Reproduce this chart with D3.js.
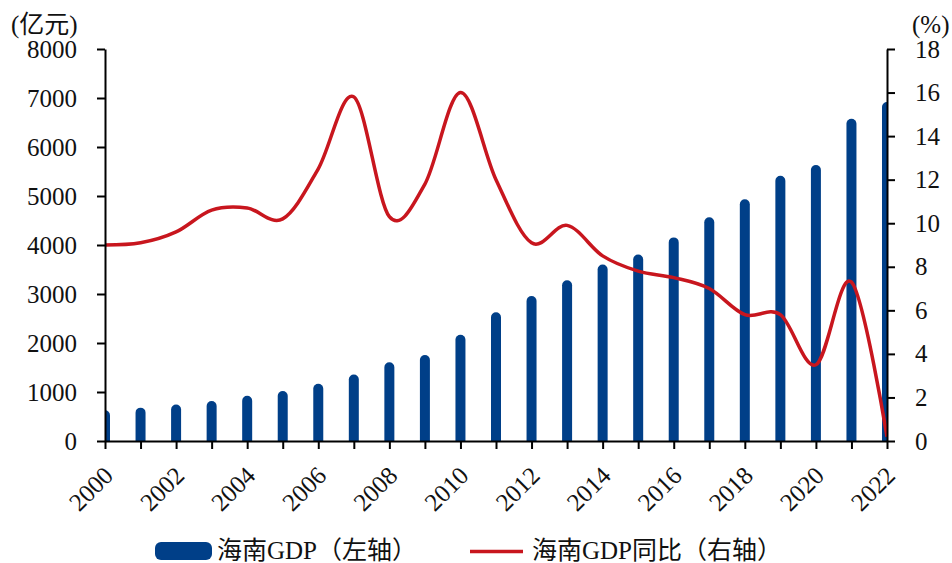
<!DOCTYPE html>
<html>
<head>
<meta charset="utf-8">
<script src="https://cdn.jsdelivr.net/npm/d3@7"></script>
<style>
  html, body { margin: 0; padding: 0; background: #fff; }
  svg { display: block; }
  text { font-family: "Liberation Serif", "Times New Roman", "Noto Sans CJK SC", serif; fill: #111; }
</style>
</head>
<body>
<svg id="chart" width="952" height="563"></svg>
<script>
// Hainan GDP (100 million yuan) and its year-on-year growth (%)
const years = [2000, 2001, 2002, 2003, 2004, 2005, 2006, 2007, 2008, 2009, 2010, 2011,
               2012, 2013, 2014, 2015, 2016, 2017, 2018, 2019, 2020, 2021, 2022];
const gdp = [527, 579, 643, 714, 820, 919, 1066, 1254, 1503, 1654, 2065, 2523,
             2856, 3178, 3501, 3703, 4053, 4463, 4832, 5309, 5532, 6475, 6818];
const growth = [9.0, 9.1, 9.6, 10.6, 10.7, 10.2, 12.5, 15.8, 10.3, 11.8, 16.0, 12.0,
                9.1, 9.9, 8.5, 7.8, 7.5, 7.0, 5.8, 5.8, 3.5, 7.3, 0.2];
const leftTicks = [0, 1000, 2000, 3000, 4000, 5000, 6000, 7000, 8000];
const rightTicks = [0, 2, 4, 6, 8, 10, 12, 14, 16, 18];
const xLabelYears = years.filter(y => y % 2 === 0);
const leftUnit = "(亿元)";
const rightUnit = "(%)";
const legendLabels = ["海南GDP（左轴）", "海南GDP同比（右轴）"];

const BLUE = "#003F88";
const RED = "#C8161E";

const svg = d3.select("#chart");
const plot = { left: 105, right: 887, top: 49, bottom: 441 };

const x = d3.scaleLinear().domain([2000, 2022]).range([plot.left, plot.right]);
const yL = d3.scaleLinear().domain([0, 8000]).range([plot.bottom, plot.top]);
const yR = d3.scaleLinear().domain([0, 18]).range([plot.bottom, plot.top]);

svg.append("defs").append("clipPath").attr("id", "plotClip")
  .append("rect")
  .attr("x", plot.left).attr("y", 0)
  .attr("width", plot.right - plot.left).attr("height", plot.bottom);

// Bars with a rounded cap on top
const barW = 10, capR = 5;
const barPath = (yr, v) => {
  const cx = x(yr), x0 = cx - barW / 2, x1 = cx + barW / 2, top = yL(v), bot = yL(0);
  return `M${x0},${bot}V${top}A${capR},${capR} 0 0 1 ${x1},${top}V${bot}Z`;
};
svg.append("g").attr("clip-path", "url(#plotClip)")
  .selectAll("path").data(years).join("path")
  .attr("d", (yr, i) => barPath(yr, gdp[i]))
  .attr("fill", BLUE);

// Growth line, smoothed
const line = d3.line()
  .x((d, i) => x(years[i]))
  .y(d => yR(d))
  .curve(d3.curveCardinal.tension(0));
svg.append("g").attr("clip-path", "url(#plotClip)")
  .append("path")
  .datum(growth)
  .attr("d", line)
  .attr("fill", "none")
  .attr("stroke", RED)
  .attr("stroke-width", 3.5)
  .attr("stroke-linejoin", "round");

// Axes
const fontSize = 25;
const styleAxis = g => {
  g.select(".domain").attr("stroke", "#000").attr("stroke-width", 2);
  g.selectAll(".tick line").attr("stroke", "#000").attr("stroke-width", 2);
  g.selectAll(".tick text").style("font-size", fontSize + "px").attr("fill", "#111");
};

svg.append("g")
  .attr("transform", `translate(${plot.left},0)`)
  .call(d3.axisLeft(yL).tickValues(leftTicks).tickFormat(d3.format("d"))
    .tickSize(8).tickSizeOuter(0).tickPadding(20))
  .call(styleAxis);

svg.append("g")
  .attr("transform", `translate(${plot.right},0)`)
  .call(d3.axisRight(yR).tickValues(rightTicks).tickFormat(d3.format("d"))
    .tickSize(8).tickSizeOuter(0).tickPadding(20))
  .call(styleAxis);

const xAxis = svg.append("g")
  .attr("transform", `translate(0,${plot.bottom})`)
  .call(d3.axisBottom(x).tickValues(years).tickSize(8).tickSizeOuter(0)
    .tickFormat(d => xLabelYears.includes(d) ? String(d) : ""))
  .call(styleAxis);
xAxis.selectAll(".tick text")
  .attr("text-anchor", "end")
  .attr("dy", "0.35em")
  .attr("y", 0).attr("x", 0)
  .attr("transform", "translate(3,30) rotate(-45)");

// Unit labels
svg.append("text").attr("x", 11).attr("y", 33)
  .style("font-size", "25px").text(leftUnit);
svg.append("text").attr("x", 912).attr("y", 33)
  .style("font-size", "25px").text(rightUnit);

// Legend
const lg = svg.append("g");
lg.append("rect").attr("x", 155).attr("y", 542).attr("width", 57).attr("height", 18)
  .attr("rx", 6).attr("fill", BLUE);
lg.append("text").attr("x", 217).attr("y", 559).style("font-size", "25px").text(legendLabels[0]);
lg.append("line").attr("x1", 470).attr("x2", 523).attr("y1", 551.5).attr("y2", 551.5)
  .attr("stroke", RED).attr("stroke-width", 3.5);
lg.append("text").attr("x", 532).attr("y", 559).style("font-size", "25px").text(legendLabels[1]);
</script>
</body>
</html>
